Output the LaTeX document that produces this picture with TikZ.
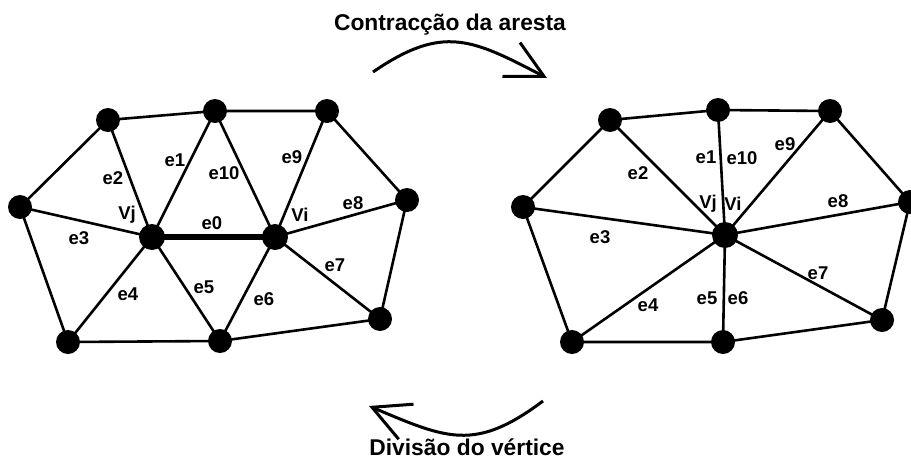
\documentclass[tikz,border=0pt]{standalone}
\usepackage{fontspec}
\setmainfont{Liberation Sans}
\usetikzlibrary{arrows.meta,backgrounds}
\begin{document}
\begin{tikzpicture}[x=1pt,y=-1pt,
  dot/.style={circle,fill=black,inner sep=0pt,minimum size=24pt},
  bigdot/.style={dot,minimum size=26pt},
  edge/.style={line width=2.6pt},
  thickedge/.style={line width=6pt},
  lbl/.style={font=\fontsize{18.5}{21}\selectfont\bfseries,inner sep=0pt},
  ttl/.style={font=\fontsize{22.8}{26}\selectfont\bfseries,inner sep=0pt},
  bigarrow/.style={line width=3pt,-{Straight Barb[length=37pt,width=38pt,line width=3pt]}}]
\useasboundingbox (0,0) rectangle (911,461);
% ---------- left mesh ----------
\node[dot] (A) at (108,120) {};
\node[dot] (B) at (215,111) {};
\node[dot] (C) at (327,111) {};
\node[dot] (D) at (20,207) {};
\node[bigdot] (Vj) at (152,237) {};
\node[bigdot] (Vi) at (275,237) {};
\node[dot] (E) at (407,200) {};
\node[dot] (F) at (68,342) {};
\node[dot] (G) at (220,341) {};
\node[dot] (H) at (380,319) {};
\begin{scope}[on background layer]
\draw[edge] (A.center) -- (B.center) -- (C.center) -- (E.center) -- (H.center) -- (G.center) -- (F.center) -- (D.center) -- (A.center);
\draw[edge] (A.center) -- (Vj.center);
\draw[edge] (B.center) -- (Vj.center);
\draw[edge] (B.center) -- (Vi.center);
\draw[edge] (C.center) -- (Vi.center);
\draw[edge] (D.center) -- (Vj.center);
\draw[edge] (E.center) -- (Vi.center);
\draw[edge] (F.center) -- (Vj.center);
\draw[edge] (G.center) -- (Vj.center);
\draw[edge] (G.center) -- (Vi.center);
\draw[edge] (H.center) -- (Vi.center);
\draw[thickedge] (Vj.center) -- (Vi.center);
\end{scope}
\node[lbl] (le2) at (113,178) {e2};
\node[lbl] (le1) at (175,160) {e1};
\node[lbl] (le10) at (224,173) {e10};
\node[lbl] (le9) at (292,157) {e9};
\node[lbl] (lVj) at (127,215) {Vj};
\node[lbl] (le0) at (212,223) {e0};
\node[lbl] (lVi) at (300,215) {Vi};
\node[lbl] (le8) at (353,203) {e8};
\node[lbl] (le3) at (79,238) {e3};
\node[lbl] (le7) at (335,265) {e7};
\node[lbl] (le4) at (128,294) {e4};
\node[lbl] (le5) at (204,287) {e5};
\node[lbl] (le6) at (264,299) {e6};
% ---------- right mesh ----------
\node[dot] (A2) at (610,120) {};
\node[dot] (B2) at (718,110) {};
\node[dot] (C2) at (830,111) {};
\node[dot] (D2) at (523,207) {};
\node[bigdot] (V) at (725,235) {};
\node[dot] (E2) at (910,202) {};
\node[dot] (F2) at (572,342) {};
\node[dot] (G2) at (723,342) {};
\node[dot] (H2) at (882,320) {};
\begin{scope}[on background layer]
\draw[edge] (A2.center) -- (B2.center) -- (C2.center) -- (E2.center) -- (H2.center) -- (G2.center) -- (F2.center) -- (D2.center) -- (A2.center);
\draw[edge] (A2.center) -- (V.center);
\draw[edge] (B2.center) -- (V.center);
\draw[edge] (C2.center) -- (V.center);
\draw[edge] (D2.center) -- (V.center);
\draw[edge] (E2.center) -- (V.center);
\draw[edge] (F2.center) -- (V.center);
\draw[edge] (G2.center) -- (V.center);
\draw[edge] (H2.center) -- (V.center);
\end{scope}
\node[lbl] (re1) at (706,157) {e1};
\node[lbl] (re10) at (742,158) {e10};
\node[lbl] (re9) at (785,144) {e9};
\node[lbl] (re2) at (638,173) {e2};
\node[lbl] (rVj) at (708,204) {Vj};
\node[lbl] (rVi) at (733,204) {Vi};
\node[lbl] (re8) at (838,201) {e8};
\node[lbl] (re3) at (600,237) {e3};
\node[lbl] (re7) at (818,273) {e7};
\node[lbl] (re5) at (707,298) {e5};
\node[lbl] (re6) at (738,298) {e6};
\node[lbl] (re4) at (648,305) {e4};
% ---------- arrows and titles ----------
\node[ttl] (t1) at (450,25) {Contracção da aresta};
\node[ttl] (t2) at (467,447) {Divisão do vértice};
\coordinate (s1) at (373,72);
\coordinate (e1) at (547,78);
\coordinate (s2) at (543,401);
\coordinate (e2) at (369,406);
\draw[bigarrow] (s1) .. controls (443,24) and (472,39) .. (e1);
\draw[bigarrow] (s2) .. controls (475,452) and (447,439) .. (e2);
\end{tikzpicture}
\end{document}
